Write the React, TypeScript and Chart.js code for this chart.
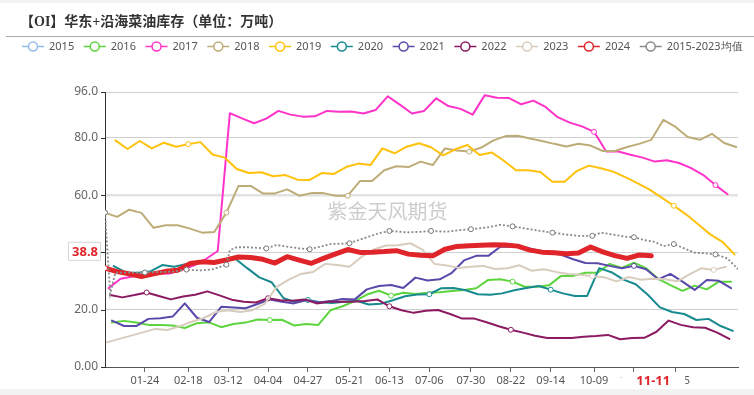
import React, { useEffect, useRef } from 'react';
import { Chart, registerables } from 'chart.js';

Chart.register(...registerables);

const TITLE = '【OI】华东+沿海菜油库存（单位：万吨）';
const WATERMARK = '紫金天风期货';

// x-axis tick labels (MM-DD) and y-axis tick values
const xTickLabels = ['01-24', '02-18', '03-12', '04-04', '04-27', '05-21', '06-13', '07-06', '07-30', '08-22', '09-14', '10-09', '11-01', '11-25'];
const yTickValues = [0, 20, 40, 60, 80, 96];
const pointerXLabel = '11-11';
const pointerYValue = 38.8;

// weekly readings (万吨); first reading day-of-year in startXXXX
const v2015: number[] = [];
const start2015 = 0;
const v2016 = [15.5, 16.1, 15.5, 14.7, 14.7, 14.5, 13.6, 15.3, 15.6, 13.9, 15.0, 15.5, 16.6, 16.4, 16.5, 14.5, 15.0, 14.7, 19.8, 21.2, 23.0, 25.3, 26.6, 24.9, 25.9, 25.5, 25.9, 26.1, 26.5, 26.9, 27.5, 30.4, 30.6, 29.8, 28.0, 28.0, 28.5, 31.8, 31.8, 32.9, 32.9, 36.0, 34.6, 36.4, 34.5, 30.8, 28.6, 26.6, 28.4, 27.1, 29.8, 29.8];
const start2016 = 4;
const v2017 = [27.5, 30.8, 31.6, 32.0, 32.5, 32.6, 33.8, 35.4, 37.6, 40.5, 88.6, 86.8, 85.1, 86.7, 89.4, 88.1, 87.4, 87.5, 89.4, 89.1, 89.2, 88.5, 89.7, 94.5, 91.6, 88.5, 89.4, 93.8, 91.1, 90.1, 88.1, 94.9, 94.0, 93.9, 91.7, 93.0, 90.8, 87.2, 85.3, 84.0, 82.1, 75.2, 75.2, 74.1, 73.1, 71.7, 72.2, 71.2, 69.4, 67.0, 63.5, 60.3];
const start2017 = 2;
const v2018 = [53.9, 52.4, 54.9, 53.8, 48.6, 49.5, 49.5, 48.3, 46.9, 47.1, 53.9, 63.2, 63.2, 60.6, 60.6, 62.0, 59.8, 60.7, 60.7, 59.8, 59.8, 64.9, 64.9, 68.7, 70.1, 69.8, 71.7, 70.5, 76.3, 75.6, 75.2, 76.6, 79.1, 80.6, 80.7, 79.8, 78.9, 77.9, 77.0, 77.9, 77.3, 75.4, 75.4, 76.8, 77.9, 79.3, 86.3, 83.8, 80.3, 79.3, 81.4, 78.2, 76.8];
const start2018 = 0;
const v2019 = [79.1, 76.1, 78.9, 76.3, 78.3, 76.9, 77.8, 78.5, 74.2, 73.1, 69.1, 67.7, 68.0, 66.6, 67.0, 65.4, 65.3, 67.7, 67.4, 69.8, 71.0, 70.5, 76.3, 74.6, 76.9, 78.1, 76.7, 73.9, 76.0, 77.5, 74.0, 74.9, 72.0, 68.7, 68.7, 68.1, 64.7, 64.7, 68.4, 70.3, 69.4, 68.2, 66.3, 64.2, 61.9, 59.1, 56.3, 53.3, 49.8, 46.3, 43.7, 39.3];
const start2019 = 6;
const v2020 = [35.2, 33.0, 32.9, 33.3, 35.6, 35.0, 36.0, 36.5, 36.8, 37.2, 37.9, 34.5, 31.3, 29.6, 24.0, 22.6, 23.4, 22.6, 22.3, 22.8, 23.1, 21.8, 22.1, 23.3, 24.7, 25.3, 25.4, 27.5, 27.6, 26.8, 25.4, 25.2, 25.7, 26.8, 27.6, 28.3, 27.0, 25.7, 24.8, 24.8, 34.5, 33.1, 30.5, 28.9, 25.2, 20.8, 19.2, 18.5, 16.4, 16.8, 14.3, 12.6];
const start2020 = 5;
const v2021 = [16.2, 14.3, 14.3, 16.8, 17.0, 17.6, 22.2, 17.2, 15.7, 21.0, 20.8, 20.5, 22.0, 23.6, 22.8, 22.2, 23.4, 22.5, 23.0, 23.7, 23.6, 27.1, 28.3, 28.6, 27.6, 31.2, 30.2, 30.6, 32.9, 37.2, 38.8, 38.8, 42.0, 42.1, 41.8, 40.8, 40.0, 39.2, 37.6, 36.3, 36.2, 35.3, 34.5, 35.3, 34.1, 30.6, 32.5, 29.8, 26.9, 30.4, 30.1, 27.5];
const start2021 = 4;
const v2022 = [25.1, 24.3, 25.1, 26.0, 24.8, 23.6, 24.6, 25.2, 26.4, 25.0, 23.5, 22.8, 22.5, 24.0, 23.3, 23.1, 23.6, 22.2, 22.8, 22.8, 22.8, 23.0, 23.6, 21.2, 19.8, 18.9, 19.6, 19.9, 18.5, 16.9, 16.9, 15.6, 14.2, 13.0, 12.0, 10.9, 10.1, 10.1, 10.1, 10.6, 10.8, 11.2, 9.7, 10.1, 10.2, 12.3, 16.2, 14.7, 13.9, 13.7, 12.0, 9.8];
const start2022 = 3;
const v2023 = [8.6, null, null, null, 13.3, 12.9, 14.2, 15.8, 17.1, 19.2, 19.8, 19.2, 19.8, 22.0, 28.0, 30.5, 32.5, 33.2, 36.0, 35.6, 35.0, 38.5, 41.0, 42.4, 42.5, 43.2, 41.0, 36.0, 35.4, 34.6, 35.0, 35.3, 34.2, 34.5, 35.5, 33.6, 34.1, 33.2, 32.5, 32.2, 31.7, 31.3, 29.9, 31.4, 30.5, 30.8, 30.6, 29.9, 32.3, 34.5, 33.9, 35.0];
const start2023 = 1;
const v2024 = [34.5, 33.3, 32.5, 31.6, 32.5, 33.4, 33.8, 36.1, 36.7, 36.5, 37.4, 38.4, 38.2, 37.6, 36.3, 38.5, 37.3, 36.2, 37.9, 39.5, 41.0, 40.0, 40.1, 40.3, 40.6, 39.4, 39.0, 38.8, 41.1, 42.1, 42.3, 42.5, 42.7, 42.6, 42.2, 40.8, 40.1, 39.9, 39.5, 39.8, 41.9, 40.2, 38.9, 37.9, 39.1, 38.8];
const start2024 = 0;

// 2015-2023 average, read at its own dates (day of year)
const meanDays = [0, 3, 6, 23, 39, 47, 55, 62, 70, 72, 76, 82, 93, 99, 105, 112, 118, 130, 141, 151, 158, 164, 174, 182, 188, 197, 205, 211, 220, 228, 235, 242, 250, 258, 265, 273, 281, 286, 294, 300, 305, 311, 317, 322, 328, 334, 340, 346, 352, 359, 365];
const meanValues = [53.9, 25.5, 32.9, 33.0, 33.3, 34.0, 33.7, 34.1, 35.7, 40.8, 41.8, 41.8, 41.4, 42.6, 42.0, 41.4, 41.1, 42.9, 43.2, 45.3, 46.7, 47.5, 47.0, 47.2, 47.5, 47.2, 47.8, 48.1, 48.7, 49.6, 49.1, 48.4, 47.6, 46.9, 46.3, 45.8, 45.8, 46.9, 46.1, 45.5, 45.3, 44.3, 43.7, 42.2, 42.9, 41.4, 39.9, 39.7, 39.3, 37.9, 34.1];

const monthStart = [0, 31, 60, 91, 121, 152, 182, 213, 244, 274, 305, 335];
const dayOfYear = (md: string) => {
  const [m, d] = md.split('-').map(Number);
  return monthStart[m - 1] + d - 1;
};
const xTickDays = xTickLabels.map(dayOfYear);

type Def = { name: string; color: string; start: number; values: (number | null)[]; markers: number[]; width?: number };
const weekly: Def[] = [
  { name: '2015', color: '#93bbe9', start: start2015, values: v2015, markers: [] },
  { name: '2016', color: '#5dd43e', start: start2016, values: v2016, markers: [13, 23, 33] },
  { name: '2017', color: '#ff33c9', start: start2017, values: v2017, markers: [40, 50] },
  { name: '2018', color: '#beac78', start: start2018, values: v2018, markers: [0, 10, 20, 30] },
  { name: '2019', color: '#ffc10a', start: start2019, values: v2019, markers: [6, 46] },
  { name: '2020', color: '#178a90', start: start2020, values: v2020, markers: [16, 26, 36] },
  { name: '2021', color: '#5a48aa', start: start2021, values: v2021, markers: [43] },
  { name: '2022', color: '#8b1a61', start: start2022, values: v2022, markers: [3, 13, 23, 33] },
  { name: '2023', color: '#d8ccbe', start: start2023, values: v2023, markers: [40, 50] },
  { name: '2024', color: '#e0252a', start: start2024, values: v2024, markers: [0], width: 5 },
];
const meanName = '2015-2023均值';
const meanColor = '#8a8a8a';
const meanMarkers = [0, 3, 5, 8, 12, 16, 18, 21, 24, 27, 30, 33, 36, 40, 44, 48];

const legendItems = [...weekly.map((s) => ({ name: s.name, color: s.color })), { name: meanName, color: meanColor }];

export default function App() {
  const ref = useRef<HTMLCanvasElement | null>(null);

  useEffect(() => {
    document.body.style.margin = '0';
    document.body.style.background = '#f2f2f2';
    const canvas = ref.current;
    if (!canvas) return;

    const datasets: any[] = weekly.map((s, idx) => ({
      label: s.name,
      data: s.values.map((y, i) => ({ x: s.start + 7 * i, y })),
      borderColor: s.color,
      backgroundColor: s.color,
      borderWidth: s.width || 2,
      borderCapStyle: 'round',
      borderJoinStyle: 'round',
      pointRadius: (c: any) => (s.markers.includes(c.dataIndex) ? 2.5 : 0),
      pointHoverRadius: 0,
      pointBorderWidth: 1,
      pointBorderColor: s.color,
      pointBackgroundColor: '#ffffff',
      spanGaps: true,
      tension: 0,
      order: 30 - idx,
    }));
    datasets.push({
      label: meanName,
      data: meanDays.map((x, i) => ({ x, y: meanValues[i] })),
      borderColor: meanColor,
      backgroundColor: meanColor,
      borderWidth: 1.8,
      borderDash: [2, 2],
      pointRadius: (c: any) => (meanMarkers.includes(c.dataIndex) ? 2.5 : 0),
      pointHoverRadius: 0,
      pointBorderWidth: 1,
      pointBorderColor: '#777',
      pointBackgroundColor: '#ffffff',
      tension: 0,
      order: 1,
    });

    const decor = {
      id: 'decor',
      beforeDatasetsDraw(chart: any) {
        const ctx = chart.ctx;
        ctx.save();
        ctx.font = '20px "Noto Sans CJK SC"';
        ctx.fillStyle = '#cdcdcd';
        ctx.textAlign = 'center';
        ctx.textBaseline = 'middle';
        ctx.fillText(WATERMARK, 387.5, 208);
        ctx.restore();
      },
      afterDraw(chart: any) {
        const ctx = chart.ctx;
        const xs = chart.scales.x;
        const ys = chart.scales.y;
        ctx.save();
        // title
        ctx.font = 'bold 14px "Liberation Serif", "Noto Sans CJK SC"';
        ctx.fillStyle = '#333';
        ctx.textAlign = 'left';
        ctx.textBaseline = 'middle';
        ctx.fillText(TITLE, 20, 19.5);
        // rule
        ctx.strokeStyle = '#aaaaaa';
        ctx.lineWidth = 1;
        ctx.beginPath();
        ctx.moveTo(6, 33.5);
        ctx.lineTo(754, 33.5);
        ctx.stroke();
        // legend
        ctx.font = '11px "Noto Sans"';
        let lx = 22;
        const ly = 43.5;
        for (const it of legendItems) {
          ctx.strokeStyle = it.color;
          ctx.lineWidth = 1.5;
          ctx.beginPath();
          ctx.moveTo(lx, ly);
          ctx.lineTo(lx + 22, ly);
          ctx.stroke();
          ctx.beginPath();
          ctx.arc(lx + 11, ly, 4.5, 0, Math.PI * 2);
          ctx.fillStyle = '#fff';
          ctx.fill();
          ctx.stroke();
          ctx.fillStyle = '#555';
          ctx.textBaseline = 'middle';
          ctx.fillText(it.name, lx + 27, ly + 0.5);
          lx += 27 + ctx.measureText(it.name).width + 9.6;
        }
        // y tick marks
        ctx.strokeStyle = '#333';
        ctx.lineWidth = 1;
        for (const v of yTickValues) {
          const py = Math.round(ys.getPixelForValue(v)) + 0.5;
          ctx.beginPath();
          ctx.moveTo(chart.chartArea.left - 4, py);
          ctx.lineTo(chart.chartArea.left, py);
          ctx.stroke();
        }
        // y pointer label
        const pyv = ys.getPixelForValue(pointerYValue) - 4.5;
        ctx.fillStyle = '#fff';
        ctx.strokeStyle = '#d6d6d6';
        ctx.beginPath();
        ctx.rect(68.5, pyv - 9, 32, 18);
        ctx.fill();
        ctx.stroke();
        ctx.font = 'bold 13px "Noto Sans"';
        ctx.fillStyle = '#e0252a';
        ctx.textAlign = 'center';
        ctx.fillText(String(pointerYValue), 85, pyv + 0.5);
        // x pointer label
        const pxv = xs.getPixelForValue(dayOfYear(pointerXLabel)) + 2;
        ctx.fillStyle = '#fff';
        ctx.fillRect(pxv - 32, 370, 64, 16);
        ctx.fillStyle = '#e0252a';
        ctx.font = 'bold 13px "Noto Sans"';
        ctx.fillText(pointerXLabel, pxv, 378);
        ctx.restore();
      },
    };

    const chart = new Chart(canvas, {
      type: 'line',
      data: { datasets },
      options: {
        animation: false,
        responsive: false,
        devicePixelRatio: 1,
        events: [],
        layout: { padding: { top: 89, right: 16, left: 0, bottom: 0 } },
        plugins: { legend: { display: false }, tooltip: { enabled: false } },
        scales: {
          x: {
            type: 'linear',
            min: 0,
            max: 365,
            afterBuildTicks: (axis: any) => {
              axis.ticks = xTickDays.map((v) => ({ value: v }));
            },
            afterFit: (axis: any) => {
              axis.height = 22;
            },
            grid: { drawOnChartArea: false, drawTicks: true, tickLength: 5, color: '#666' },
            border: { color: '#555', width: 1 },
            ticks: {
              autoSkip: false,
              maxRotation: 0,
              padding: 2,
              color: '#555',
              font: { family: 'Noto Sans', size: 11 },
              callback: (_v: any, i: number) => xTickLabels[i],
            },
          },
          y: {
            min: 0,
            max: 96,
            afterBuildTicks: (axis: any) => {
              axis.ticks = yTickValues.map((v) => ({ value: v }));
            },
            afterFit: (axis: any) => {
              axis.width = 105;
            },
            grid: {
              drawTicks: false,
              color: (c: any) => (c.tick && c.tick.value === 60 ? '#e2e2e2' : '#d0d0d0'),
              lineWidth: (c: any) => (c.tick && c.tick.value === 60 ? 2.5 : 1),
            },
            border: { color: '#333', width: 1 },
            ticks: {
              padding: 7,
              color: '#666',
              font: { family: 'Noto Sans', size: 12 },
              callback: (v: any) => (Number(v) === 0 ? '0.00' : Number(v).toFixed(1)),
            },
          },
        },
      } as any,
      plugins: [decor],
    });

    return () => {
      chart.destroy();
    };
  }, []);

  return (
    <div style={{ width: 754, height: 395, background: '#f2f2f2', paddingTop: 3, boxSizing: 'border-box' }}>
      <div style={{ width: 754, height: 386, background: '#ffffff' }}>
        <canvas ref={ref} width={754} height={386} style={{ display: 'block', width: 754, height: 386 }} />
      </div>
    </div>
  );
}
